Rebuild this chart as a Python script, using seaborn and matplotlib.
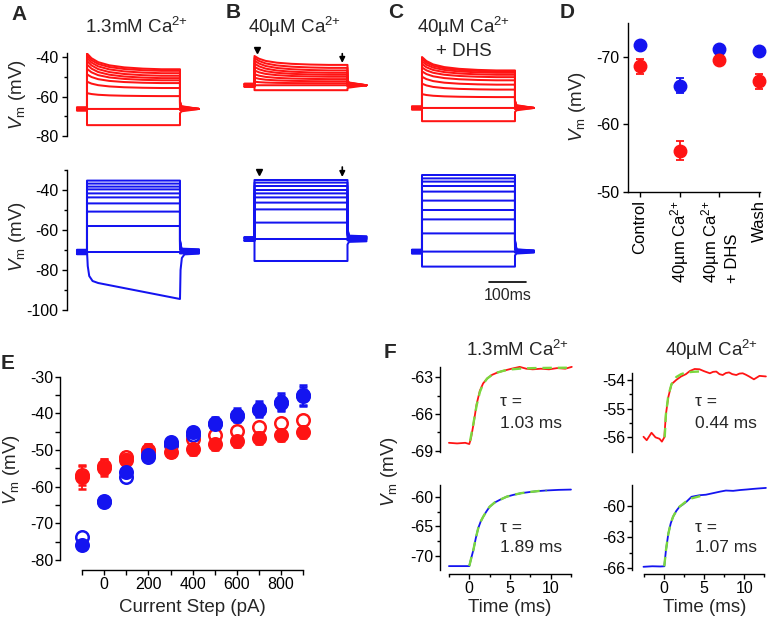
import matplotlib
matplotlib.use("Agg")
import matplotlib.pyplot as plt
import numpy as np
import pandas as pd
import seaborn as sns
from matplotlib.ticker import FixedLocator

# ------------------------------------------------------------------ data
# Panels A-C : current-step evoked voltage traces (mV), one value per sweep
step_pA = [-100, 0, 100, 200, 300, 400, 500, 600, 700, 800, 900]

A_red_base = -66.3
A_red_steady = [-74.5, -66.3, -59.8, -55.7, -53.2, -51.8, -50.7, -49.5, -48.2, -47.0, -46.2]
A_red_peak = [-74.5, -66.3, -58.3, -52.5, -48.8, -46.0, -43.8, -42.0, -40.5, -39.3, -38.2]
B_red_base = -54.3
B_red_steady = [-56.8, -54.3, -53.3, -52.3, -51.2, -50.0, -49.0, -48.0, -46.8, -45.5, -44.0]
B_red_peak = [-56.8, -54.3, -52.5, -50.5, -48.7, -46.8, -45.0, -43.3, -41.8, -40.5, -39.5]
C_red_base = -65.8
C_red_steady = [-72.5, -65.8, -60.3, -56.5, -54.0, -51.8, -50.2, -49.0, -48.0, -47.3, -46.8]
C_red_peak = [-72.5, -65.8, -58.8, -53.5, -50.0, -47.3, -45.3, -43.6, -42.2, -41.0, -40.0]

A_blue_base = -71.0
A_blue_steady = [-94.5, -71.0, -58.0, -50.8, -46.7, -43.7, -41.7, -39.7, -38.3, -36.8, -35.3]
A_blue_hyper_t = [-27, 0, 2, 6, 15, 30, 250, 251.5, 255, 262, 301]
A_blue_hyper_v = [-70.5, -70.5, -78.0, -83.0, -85.5, -86.5, -94.5, -80.0, -74.0, -72.2, -71.8]
B_blue_base = -64.5
B_blue_steady = [-75.5, -64.5, -56.3, -49.7, -46.3, -43.7, -41.7, -40.0, -38.0, -36.3, -35.0]
C_blue_base = -70.8
C_blue_steady = [-78.3, -70.8, -61.7, -54.7, -50.0, -45.3, -40.8, -38.0, -35.8, -34.2, -32.5]

# sag time course (ms after onset, remaining fraction of the initial sag)
sag_t = [12, 30, 60, 100, 150, 200]
sag_f = [0.70, 0.45, 0.25, 0.12, 0.04, 0.0]
# sweep-to-sweep baseline offsets before / after the step (mV)
pre_jit = [0.7, -0.5, 0.3, -0.8, 0.5, -0.2, 0.8, -0.6, 0.1, -0.7, 0.4]
post_jit = [-1.2, -0.6, -0.3, 0.0, 0.2, 0.4, 0.6, 0.8, 1.0, 1.2, 1.4]

CA = "Ca$^{2{+}}$"

# Panel D
d_labels = ["Control", "40\u00b5m " + CA, "40\u00b5m " + CA + "\n+ DHS", "Wash"]
d_blue = [-71.8, -65.7, -71.2, -70.9]
d_blue_err = [0.3, 1.1, 0.4, 0.3]
d_red = [-68.6, -56.1, -69.5, -66.4]
d_red_err = [1.1, 1.4, 0.6, 1.1]

# Panel E
e_current = [-100, 0, 100, 200, 300, 400, 500, 600, 700, 800, 900]
e_blue_filled = [-75.9, -64.1, -56.1, -51.4, -47.7, -45.2, -42.6, -40.4, -38.7, -36.8, -35.0]
e_blue_filled_err = [0.8, 0.6, 0.8, 0.8, 1.0, 1.2, 1.5, 1.8, 2.1, 2.4, 2.8]
e_blue_open = [-73.7, -64.0, -57.4, -51.8, -48.6, -45.9, -43.0, -40.8, -39.0, -37.1, -35.3]
e_blue_open_err = [0.8, 0.6, 0.8, 0.8, 1.0, 1.1, 1.3, 1.6, 1.9, 2.2, 2.6]
e_red_filled = [-57.5, -54.8, -52.6, -50.3, -50.5, -49.8, -48.5, -47.6, -46.8, -45.9, -45.1]
e_red_filled_err = [3.1, 2.3, 1.6, 2.0, 1.3, 1.5, 1.4, 1.5, 1.6, 1.7, 1.7]
e_red_open = [-56.8, -54.5, -52.0, -49.9, -48.3, -47.0, -45.8, -44.8, -43.8, -42.7, -41.8]
e_red_open_err = [2.8, 2.0, 1.4, 1.6, 1.1, 1.2, 1.1, 1.1, 1.1, 1.2, 1.2]

# Panel F : onset of the response (ms, mV) and exponential fits
f_tl_t = [-2.5, -1.5, -0.5, 0.0, 0.2, 0.5, 0.9, 1.3, 1.7, 2.2, 2.8, 3.5, 4.3, 5.2, 6.2, 7.0, 7.8, 8.8, 9.8, 10.8, 11.8, 12.6]
f_tl_v = [-68.35, -68.4, -68.35, -68.45, -68.0, -66.9, -65.2, -64.1, -63.5, -63.1, -62.8, -62.6, -62.45, -62.3, -62.15, -62.3, -62.35, -62.3, -62.35, -62.25, -62.3, -62.15]
f_tl_fit_t = [0.1, 0.5, 0.9, 1.3, 1.7, 2.2, 2.8, 3.5, 4.3, 5.2, 6.5, 8.0, 10.0, 12.0]
f_tl_fit_v = [-68.2, -66.8, -65.3, -64.2, -63.55, -63.1, -62.8, -62.6, -62.45, -62.35, -62.28, -62.25, -62.23, -62.22]

f_tr_t = [-2.6, -2.2, -1.6, -1.1, -0.6, -0.3, 0.0, 0.2, 0.5, 0.9, 1.5, 2.1, 2.7, 3.2, 3.8, 4.4, 5.0, 5.7, 6.1, 6.5, 6.9, 7.3, 7.7, 8.1, 8.5, 9.0, 9.4, 9.8, 10.2, 10.6, 11.2, 11.9, 12.7]
f_tr_v = [-55.98, -56.1, -55.84, -56.0, -56.05, -56.15, -56.0, -55.2, -54.6, -54.15, -54.0, -53.88, -53.8, -53.69, -53.62, -53.63, -53.7, -53.77, -53.72, -53.71, -53.8, -53.83, -53.76, -53.74, -53.8, -53.83, -53.78, -53.77, -53.82, -53.88, -53.98, -53.86, -53.88]
f_tr_fit_t = [0.05, 0.2, 0.5, 0.9, 1.5, 2.1, 2.8, 3.5, 4.2, 4.8]
f_tr_fit_v = [-56.0, -55.2, -54.55, -54.15, -53.9, -53.8, -53.74, -53.72, -53.71, -53.7]

f_bl_t = [-2.5, -1.0, 0.0, 0.25, 0.5, 0.8, 1.1, 1.4, 1.7, 2.1, 2.5, 3.1, 3.8, 4.6, 5.4, 6.4, 7.5, 8.5, 9.5, 11.0, 12.5]
f_bl_v = [-71.7, -71.7, -71.7, -70.3, -69.0, -67.0, -65.3, -64.2, -63.4, -62.5, -61.7, -61.0, -60.5, -60.0, -59.7, -59.4, -59.2, -59.05, -58.95, -58.85, -58.8]
f_bl_fit_t = [0.0, 0.25, 0.5, 0.8, 1.1, 1.4, 1.7, 2.1, 2.5, 3.1, 3.8, 4.6, 5.4, 6.4, 7.5, 8.5, 9.5]
f_bl_fit_v = [-71.7, -70.3, -69.0, -67.0, -65.3, -64.2, -63.4, -62.5, -61.7, -61.0, -60.5, -60.0, -59.7, -59.4, -59.2, -59.05, -58.95]

f_br_t = [-2.6, -1.5, -0.5, 0.0, 0.2, 0.5, 0.8, 1.1, 1.5, 1.9, 2.3, 2.8, 3.4, 4.4, 5.2, 6.1, 7.0, 7.7, 8.6, 9.5, 10.3, 11.0, 11.8, 12.7]
f_br_v = [-65.85, -65.8, -65.82, -65.8, -64.3, -62.7, -61.7, -61.05, -60.5, -60.1, -59.9, -59.6, -59.15, -59.0, -58.95, -58.8, -58.65, -58.55, -58.58, -58.5, -58.45, -58.4, -58.35, -58.3]
f_br_fit_t = [0.0, 0.2, 0.5, 0.8, 1.1, 1.5, 1.9, 2.3, 2.8, 3.4, 4.4, 5.0]
f_br_fit_v = [-65.8, -64.3, -62.7, -61.7, -61.05, -60.5, -60.1, -59.85, -59.55, -59.3, -59.1, -59.0]

f_tau = ["1.03 ms", "0.44 ms", "1.89 ms", "1.07 ms"]

# ------------------------------------------------------------------ style
sns.set_theme(style="ticks")
plt.rcParams["font.family"] = ["Liberation Sans", "DejaVu Sans"]
plt.rcParams["mathtext.fontset"] = "custom"
plt.rcParams["mathtext.rm"] = "Liberation Sans"
plt.rcParams["mathtext.it"] = "Liberation Sans:italic"
plt.rcParams["mathtext.bf"] = "Liberation Sans:bold"

RED = "#ff1414"
BLUE = "#1414f0"
GREEN = "#7ad83e"
TICK = 11.5
LAB = 13.5

W, H = 767, 620
fig = plt.figure(figsize=(W / 100, H / 100), dpi=100)


def add_ax(l, t, r, b):
    return fig.add_axes([l / W, 1 - b / H, (r - l) / W, (b - t) / H])


def style(ax, left=True, bottom=True):
    for s in ["top", "right"]:
        ax.spines[s].set_visible(False)
    ax.spines["left"].set_visible(left)
    ax.spines["bottom"].set_visible(bottom)
    for s in ["left", "bottom"]:
        ax.spines[s].set_linewidth(1.0)
        ax.spines[s].set_color("black")
    ax.tick_params(which="both", direction="out", width=1.0, color="black",
                   labelsize=TICK, pad=1.5, labelcolor="black")
    ax.tick_params(which="major", length=3.5)
    ax.tick_params(which="minor", length=2.0)
    if not bottom:
        ax.tick_params(axis="x", which="both", bottom=False, labelbottom=False)
    ax.set_facecolor("none")
    ax.set_xlabel("")
    ax.set_ylabel("")


def ftext(x, y, s, **kw):
    kw.setdefault("ha", "center")
    kw.setdefault("va", "center")
    return fig.text(x / W, 1 - y / H, s, **kw)


def sweep_frame(base, steady, peak, pre_scale, post_scale, taper, first=None):
    rows = []
    for i, L in enumerate(steady):
        P = peak[i]
        j0 = pre_jit[i] * pre_scale
        j1 = post_jit[i] * post_scale
        if first is not None and i == 0:
            tt, vv = list(first[0]), list(first[1])
        else:
            tt = [-27, 0, 0]
            vv = [base + j0, base + j0, P]
            if P != L:
                tt += sag_t
                vv += [L + (P - L) * f for f in sag_f]
            tt += [250, 250, 254, 301]
            vv += [L, base + 0.12 * (L - base) + j1, base + j1, base + j1 * taper]
        rows += [dict(t=a, v=b, sweep=i) for a, b in zip(tt, vv)]
    return pd.DataFrame(rows)


XL = (-54, 317)
ROW1 = (53, 136, (-80, -37.97))
ROW2 = (170, 310, (-100, -30))
ONSET = [87, 254.5, 422]

trace_sets = [
    (0, 0, A_red_base, A_red_steady, A_red_peak, RED, 1.0, 1.0, 0.0, None),
    (1, 0, B_red_base, B_red_steady, B_red_peak, RED, 1.0, 1.0, 0.0, None),
    (2, 0, C_red_base, C_red_steady, C_red_peak, RED, 1.0, 1.0, 0.0, None),
    (0, 1, A_blue_base, A_blue_steady, A_blue_steady, BLUE, 1.4, 1.2, 0.8, (A_blue_hyper_t, A_blue_hyper_v)),
    (1, 1, B_blue_base, B_blue_steady, B_blue_steady, BLUE, 1.2, 1.2, 0.8, None),
    (2, 1, C_blue_base, C_blue_steady, C_blue_steady, BLUE, 1.2, 0.8, 0.5, None),
]
trace_axes = {}
for col, row, base, st, pk, colr, ps, qs, tp, first in trace_sets:
    top, bot, yl = (ROW1 if row == 0 else ROW2)
    left = ONSET[col] - 54 * 0.372
    ax = add_ax(left, top, left + 138, bot)
    df = sweep_frame(base, st, pk, ps, qs, tp, first)
    sns.lineplot(data=df, x="t", y="v", units="sweep", estimator=None, sort=False,
                 color=colr, lw=1.45, ax=ax, legend=False)
    ax.set_xlim(*XL)
    ax.set_ylim(*yl)
    style(ax, left=(col == 0), bottom=False)
    if col == 0:
        if row == 0:
            ax.yaxis.set_major_locator(FixedLocator([-80, -60, -40]))
            ax.yaxis.set_minor_locator(FixedLocator([-70, -50]))
        else:
            ax.yaxis.set_major_locator(FixedLocator([-100, -80, -60, -40]))
            ax.yaxis.set_minor_locator(FixedLocator([-90, -70, -50, -30]))
        ax.set_yticklabels([str(v) for v in ax.get_yticks()])
        ax.tick_params(axis="y", pad=2.5)
    else:
        for s in ["left", "bottom"]:
            ax.spines[s].set_visible(False)
        ax.set_xticks([])
        ax.set_yticks([])
    trace_axes[(col, row)] = ax

# markers in B (peak / steady state)
for row, (ty, ay0, ay1) in {0: (-36.5, -38.3, -43.0), 1: (-31.0, -28.5, -33.5)}.items():
    ax = trace_axes[(1, row)]
    ax.plot([8 if row == 0 else 13], [ty], marker="v", color="black", ms=5, clip_on=False)
    ax.annotate("", xy=(236, ay1), xytext=(236, ay0), annotation_clip=False,
                arrowprops=dict(arrowstyle="-|>", color="black", lw=1.2,
                                mutation_scale=8, shrinkA=0, shrinkB=0))

# scale bar (100 ms) in C
axc = trace_axes[(2, 1)]
axc.plot([180, 280], [-86, -86], color="black", lw=1.2, clip_on=False)
axc.text(230, -93, "100ms", ha="center", va="center", fontsize=TICK)

# trace panel labels
ylab = r"$V_{\rm m}$ (mV)"
ftext(18, 95, ylab, rotation=90, fontsize=LAB)
ftext(18, 237, ylab, rotation=90, fontsize=LAB)
ftext(137, 27, "1.3mM " + CA, fontsize=LAB)
ftext(295, 27, "40\u00b5M " + CA, fontsize=LAB)
ftext(464, 27, "40\u00b5M " + CA, fontsize=LAB)
ftext(464, 51, "+ DHS", fontsize=LAB)

# ------------------------------------------------------------------ D
axd = add_ax(628, 23, 760, 192)
xd = np.arange(len(d_labels))
axd.errorbar(xd, d_blue, yerr=d_blue_err, fmt="o", ms=9, color=BLUE, mec=BLUE,
             capsize=3, elinewidth=1.3, capthick=1.3, clip_on=False, zorder=3)
axd.errorbar(xd, d_red, yerr=d_red_err, fmt="o", ms=9, color=RED, mec=RED,
             capsize=3, elinewidth=1.3, capthick=1.3, clip_on=False, zorder=4)
axd.set_xlim(-0.3, 3.02)
axd.set_ylim(-50, -75)
style(axd)
axd.yaxis.set_major_locator(FixedLocator([-70, -60, -50]))
axd.set_yticklabels(["-70", "-60", "-50"])
axd.set_xticks(xd)
axd.set_xticklabels(d_labels, rotation=90, va="top", ha="center",
                    multialignment="left", fontsize=12)
axd.tick_params(axis="x", pad=2.5)
axd.tick_params(axis="y", pad=2.5)
ftext(577, 107, ylab, rotation=90, fontsize=LAB)

# ------------------------------------------------------------------ E
axe = add_ax(60, 373, 312, 570)
series = [
    (e_red_open, e_red_open_err, RED, "white", 2),
    (e_blue_open, e_blue_open_err, BLUE, "white", 3),
    (e_red_filled, e_red_filled_err, RED, RED, 4),
    (e_blue_filled, e_blue_filled_err, BLUE, BLUE, 5),
]
for vals, err, c, fc, z in series:
    axe.errorbar(e_current, vals, yerr=err, fmt="o", ms=9, color=c, mfc=fc, mec=c,
                 mew=1.8, capsize=3, elinewidth=1.3, capthick=1.3, clip_on=False, zorder=z)
axe.set_xlim(-200, 940)
axe.set_ylim(-82.73, -29)
style(axe)
axe.spines["left"].set_bounds(-80, -30)
axe.spines["bottom"].set_bounds(-100, 900)
axe.yaxis.set_major_locator(FixedLocator([-80, -70, -60, -50, -40, -30]))
axe.yaxis.set_minor_locator(FixedLocator([-75, -65, -55, -45, -35]))
axe.set_yticklabels([str(v) for v in [-80, -70, -60, -50, -40, -30]])
axe.xaxis.set_major_locator(FixedLocator([0, 200, 400, 600, 800]))
axe.xaxis.set_minor_locator(FixedLocator([-100, 100, 300, 500, 700, 900]))
axe.set_xticklabels(["0", "200", "400", "600", "800"])
axe.tick_params(which="minor", length=3.5)
ftext(12, 470, ylab, rotation=90, fontsize=LAB)
ftext(192, 608, "Current Step (pA)", fontsize=LAB)

# ------------------------------------------------------------------ F
f_specs = [
    (440, 367, 573.4, 452, (-3.6, 12.8), (-69.1, -62.16), None, f_tl_t, f_tl_v, f_tl_fit_t, f_tl_fit_v, RED,
     [-69, -66, -63], [-67.5, -64.5], False),
    (632.3, 373, 766.7, 451.7, (-4.0, 12.8), (-56.5, -53.76), None, f_tr_t, f_tr_v, f_tr_fit_t, f_tr_fit_v, RED,
     [-56, -55, -54], [-55.5, -54.5], False),
    (440, 485, 573.4, 574, (-3.6, 12.8), (-73.03, -58.03), (-72.36, -58.03), f_bl_t, f_bl_v, f_bl_fit_t, f_bl_fit_v, BLUE,
     [-70, -65, -60], [-67.5, -62.5], True),
    (632.3, 485, 766.7, 574, (-4.0, 12.8), (-66.54, -58.02), (-66.16, -58.02), f_br_t, f_br_v, f_br_fit_t, f_br_fit_v, BLUE,
     [-66, -63, -60], [-64.5, -61.5], True),
]
for (l, t, r, b, xl, yl, lb, tt, vv, ft, fv, c, maj, mnr, showx) in f_specs:
    ax = add_ax(l, t, r, b)
    sns.lineplot(x=tt, y=vv, color=c, lw=1.3, sort=False, estimator=None, ax=ax)
    sns.lineplot(x=ft, y=fv, color=GREEN, lw=1.7, sort=False, estimator=None, ax=ax,
                 dashes=False, linestyle=(0, (4, 2.5)))
    for ln in ax.lines:
        ln.set_clip_on(False)
    ax.set_xlim(*xl)
    ax.set_ylim(*yl)
    style(ax, bottom=showx)
    if lb is not None:
        ax.spines["left"].set_bounds(*lb)
    ax.yaxis.set_major_locator(FixedLocator(maj))
    ax.yaxis.set_minor_locator(FixedLocator(mnr))
    ax.set_yticklabels([str(v) for v in maj])
    if showx:
        ax.spines["bottom"].set_bounds(-2.5, 12.5)
        ax.xaxis.set_major_locator(FixedLocator([0, 5, 10]))
        ax.xaxis.set_minor_locator(FixedLocator([-2.5, 2.5, 7.5, 12.5]))
        ax.set_xticklabels(["0", "5", "10"])

tau_pos = [(500, 402, 423), (695, 402, 423), (500, 527, 548), (695, 527, 548)]
for (x, y1, y2), s in zip(tau_pos, f_tau):
    ftext(x, y1, "\u03c4 =", ha="left", fontsize=12.5)
    ftext(x, y2, s, ha="left", fontsize=12.5)
ftext(518, 350, "1.3mM " + CA, fontsize=LAB)
ftext(712, 350, "40\u00b5M " + CA, fontsize=LAB)
ftext(389, 472, ylab, rotation=90, fontsize=LAB)
ftext(510, 607, "Time (ms)", fontsize=LAB)
ftext(705, 607, "Time (ms)", fontsize=LAB)

# ------------------------------------------------------------------ panel letters
for s, x, y in [("A", 19, 14), ("B", 233, 13), ("C", 396, 13), ("D", 567, 13),
                ("E", 8, 364), ("F", 390, 352)]:
    ftext(x, y, s, fontsize=15, fontweight="bold")

fig.savefig("out.png", dpi=100)
